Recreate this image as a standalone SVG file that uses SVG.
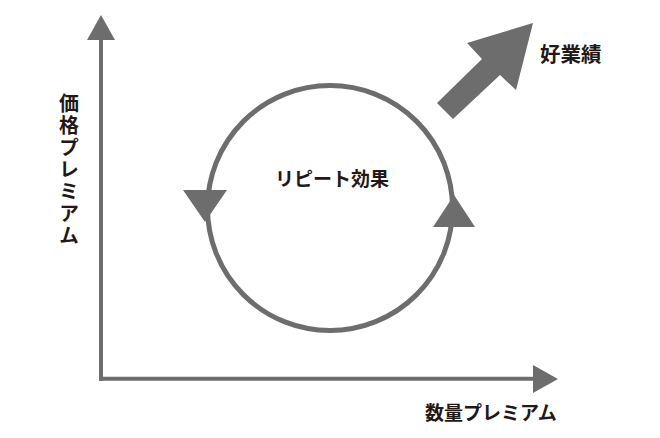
<svg xmlns="http://www.w3.org/2000/svg" width="660" height="438" viewBox="0 0 660 438">
<style>
.ln{stroke:#6d6d6d;stroke-width:4;fill:none}
.hd{fill:#6d6d6d;stroke:none}
.t{font-family:"Noto Sans CJK JP","Noto Sans CJK SC",sans-serif;font-weight:bold;fill:#231815}
</style>
<rect width="660" height="438" fill="#ffffff"/>
<g id="connectors">
<line class="ln" x1="101" y1="38" x2="101" y2="380.7"/>
<polygon class="hd" points="87,40 115,40 101,15"/>
<line class="ln" x1="99" y1="378.7" x2="535" y2="378.7"/>
<polygon class="hd" points="533,365 533,393 558,379"/>
<circle cx="330" cy="208" r="122.5" style="stroke:#6d6d6d;stroke-width:5;fill:none"/>
<polygon class="hd" points="183,190 227,190 205,222"/>
<polygon class="hd" points="433,227 475,227 454,195"/>
<polygon class="hd" points="437,103 482,59 467,43 533,23 516,90 500,75 453,119"/>
</g>
<g id="y-label"><text class="t" x="69" y="93" font-size="20" style="writing-mode:vertical-rl;letter-spacing:2px">価格プレミアム</text></g>
<g id="x-label"><text class="t" x="425" y="420" font-size="19">数量プレミアム</text></g>
<g id="repeat"><text class="t" x="275" y="186" font-size="19">リピート効果</text></g>
<g id="result"><text class="t" x="540" y="62" font-size="20.5">好業績</text></g>
</svg>
